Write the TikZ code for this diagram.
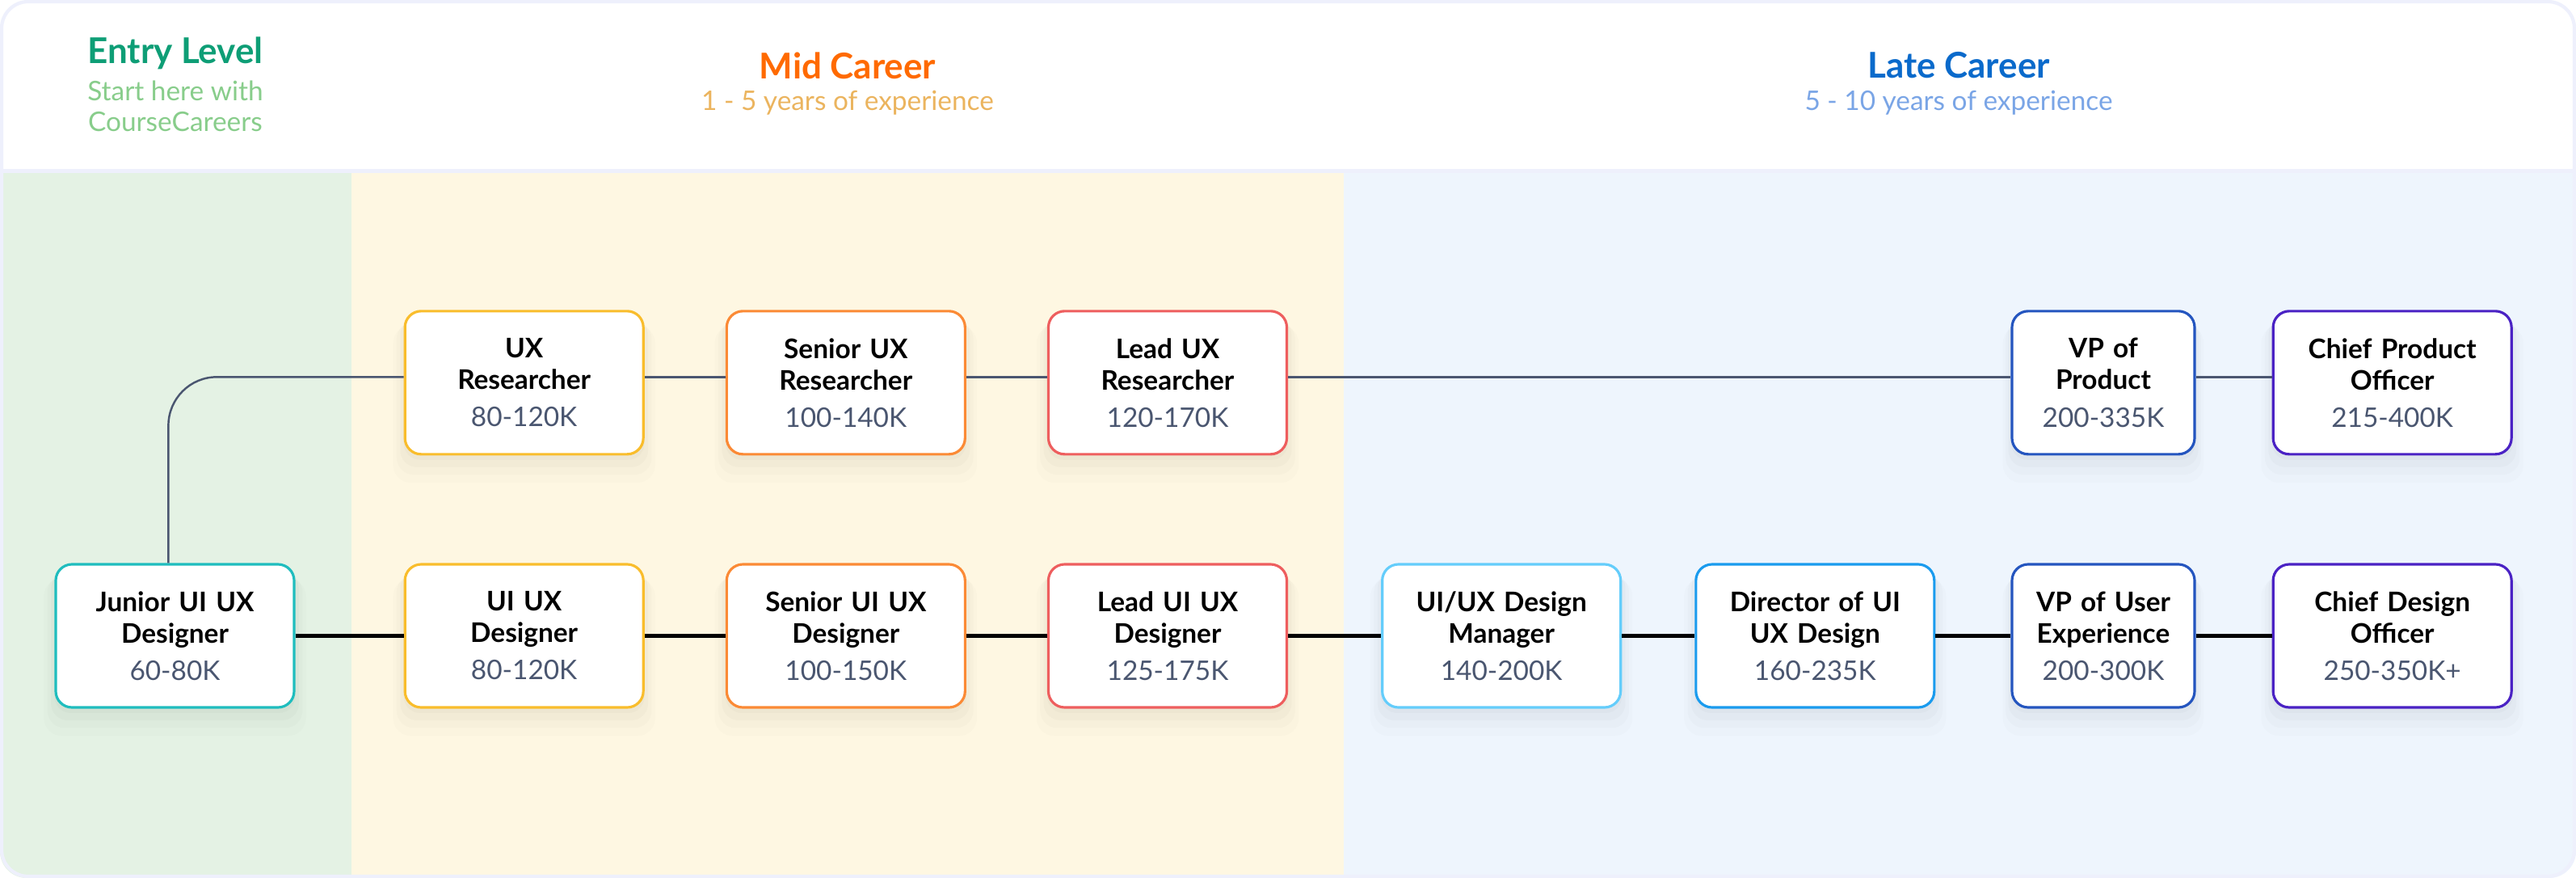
\documentclass[tikz,border=0pt]{standalone}
\usepackage{fontspec}
\setmainfont{Lato}
\usepackage{tikz}
\usetikzlibrary{positioning}
\usetikzlibrary{backgrounds}
\usetikzlibrary{shadows}

\definecolor{entrytext}{HTML}{0E9E76}
\definecolor{entrysubtext}{HTML}{88CD8B}
\definecolor{midtext}{HTML}{FF6A00}
\definecolor{midsubtext}{HTML}{EBB45E}
\definecolor{latetext}{HTML}{0A6ACB}
\definecolor{latesubtext}{HTML}{7AA5E6}
\definecolor{entrybg}{HTML}{E4F2E4}
\definecolor{midbg}{HTML}{FEF7E2}
\definecolor{latebg}{HTML}{EEF5FD}
\definecolor{framecol}{HTML}{EEF0FC}
\definecolor{salarycol}{HTML}{4A5670}
\definecolor{researchcol}{HTML}{4A5670}
\definecolor{cteal}{HTML}{1FBDBE}
\definecolor{cyellow}{HTML}{F9BD2C}
\definecolor{corange}{HTML}{FB8A35}
\definecolor{cred}{HTML}{EE5E5E}
\definecolor{clight}{HTML}{64CDFB}
\definecolor{cblue}{HTML}{1A9BEE}
\definecolor{cdark}{HTML}{2455BF}
\definecolor{cpurple}{HTML}{4A22C4}

\newcommand{\sal}[1]{{\mdseries\color{salarycol}#1}}

\begin{document}
\begin{tikzpicture}[
            shorten > = 0pt,
            node distance = 1cm, % gap between boxes
            semithick
        ]

        \tikzstyle{job}=[
            rectangle,
            draw,
            line width = 0.9pt,
            fill = white,
            rounded corners = 0.2cm,
            minimum height = 1.77cm,
            text width = 2.95cm,
            inner sep = 0pt,
            align = center,
            font = \fontsize{9.5}{11.1}\selectfont\bfseries,
            general shadow = {shadow yshift = -0.06cm, shadow scale = 1.01, fill = black, opacity = 0.02},
            general shadow = {shadow yshift = -0.12cm, shadow scale = 1.04, fill = black, opacity = 0.018},
            general shadow = {shadow yshift = -0.18cm, shadow scale = 1.07, fill = black, opacity = 0.014},
            general shadow = {shadow yshift = -0.24cm, shadow scale = 1.10, fill = black, opacity = 0.01}
        ]
        \tikzstyle{narrow}=[text width = 2.26cm]
        \tikzstyle{title}=[font = \fontsize{12.5}{15}\selectfont\bfseries]
        \tikzstyle{subtitle}=[font = \fontsize{9.5}{10.8}\selectfont, align = center]
        \tikzstyle{design}=[line width = 1.4pt, draw = black]
        \tikzstyle{research}=[line width = 0.7pt, draw = researchcol]

    \useasboundingbox (0,0) rectangle (31.88,-10.86);

% columns
    \begin{scope}
        \clip[rounded corners = 0.33cm] (0,0) rectangle (31.88,-10.86);
        \fill[white] (0,0) rectangle (31.88,-2.12);
        \fill[entrybg] (0,-2.12) rectangle (4.35,-10.86);
        \fill[midbg] (4.35,-2.12) rectangle (16.63,-10.86);
        \fill[latebg] (16.63,-2.12) rectangle (31.88,-10.86);
        \fill[framecol] (0,-2.09) rectangle (31.88,-2.14);
    \end{scope}
    \draw[framecol, line width = 1.2pt, rounded corners = 0.33cm] (0.02,-0.02) rectangle (31.86,-10.84);

% header
        \node[title, text = entrytext] (entry) at (2.17,-0.66) {Entry Level};
        \node[subtitle, text = entrysubtext] (entrysub) at (2.17,-1.31) {Start here with\\CourseCareers};
        \node[title, text = midtext] (mid) at (10.49,-0.81) {Mid Career};
        \node[subtitle, text = midsubtext] (midsub) at (10.49,-1.27) {1 - 5 years of experience};
        \node[title, text = latetext] (late) at (24.24,-0.81) {Late Career};
        \node[subtitle, text = latesubtext] (latesub) at (24.24,-1.27) {5 - 10 years of experience};

% design level
        \node[job, draw = cteal] (junior) at (2.165,-7.865) {Junior UI UX\\Designer\\[2pt]\sal{60-80K}};
        \node[job, draw = cyellow] (uiux) [right = 1.34cm of junior] {UI UX\\Designer\\[2pt]\sal{80-120K}};
        \node[job, draw = corange] (suiux) [right = of uiux] {Senior UI UX\\Designer\\[2pt]\sal{100-150K}};
        \node[job, draw = cred] (luiux) [right = of suiux] {Lead UI UX\\Designer\\[2pt]\sal{125-175K}};
        \node[job, draw = clight] (mgr) [right = 1.15cm of luiux] {UI/UX Design\\Manager\\[2pt]\sal{140-200K}};
        \node[job, draw = cblue] (dir) [right = 0.9cm of mgr] {Director of UI\\UX Design\\[2pt]\sal{160-235K}};
        \node[job, narrow, draw = cdark] (vpux) [right = 0.93cm of dir] {VP of User\\Experience\\[2pt]\sal{200-300K}};
        \node[job, draw = cpurple] (cdo) [right = 0.94cm of vpux] {Chief Design\\Officer\\[2pt]\sal{250-350K+}};

% research level
        \node[job, draw = cyellow] (uxr) [above = 1.33cm of uiux] {UX\\Researcher\\[2pt]\sal{80-120K}};
        \node[job, draw = corange] (suxr) [above = 1.33cm of suiux] {Senior UX\\Researcher\\[2pt]\sal{100-140K}};
        \node[job, draw = cred] (luxr) [above = 1.33cm of luiux] {Lead UX\\Researcher\\[2pt]\sal{120-170K}};
        \node[job, narrow, draw = cdark] (vpp) [above = 1.33cm of vpux] {VP of\\Product\\[2pt]\sal{200-335K}};
        \node[job, draw = cpurple] (cpo) [above = 1.33cm of cdo] {Chief Product\\Officer\\[2pt]\sal{215-400K}};

        \path[design] (junior) edge (uiux);
        \path[design] (uiux) edge (suiux);
        \path[design] (suiux) edge (luiux);
        \path[design] (luiux) edge (mgr);
        \path[design] (mgr) edge (dir);
        \path[design] (dir) edge (vpux);
        \path[design] (vpux) edge (cdo);

        \draw[research, rounded corners = 0.6cm] ([xshift = -2.3pt]junior.north) |- ([yshift = 2pt]uxr.west);
        \path[research] ([yshift = 2pt]uxr.east) edge ([yshift = 2pt]suxr.west);
        \path[research] ([yshift = 2pt]suxr.east) edge ([yshift = 2pt]luxr.west);
        \path[research] ([yshift = 2pt]luxr.east) edge ([yshift = 2pt]vpp.west);
        \path[research] ([yshift = 2pt]vpp.east) edge ([yshift = 2pt]cpo.west);

  \end{tikzpicture}
\end{document}
